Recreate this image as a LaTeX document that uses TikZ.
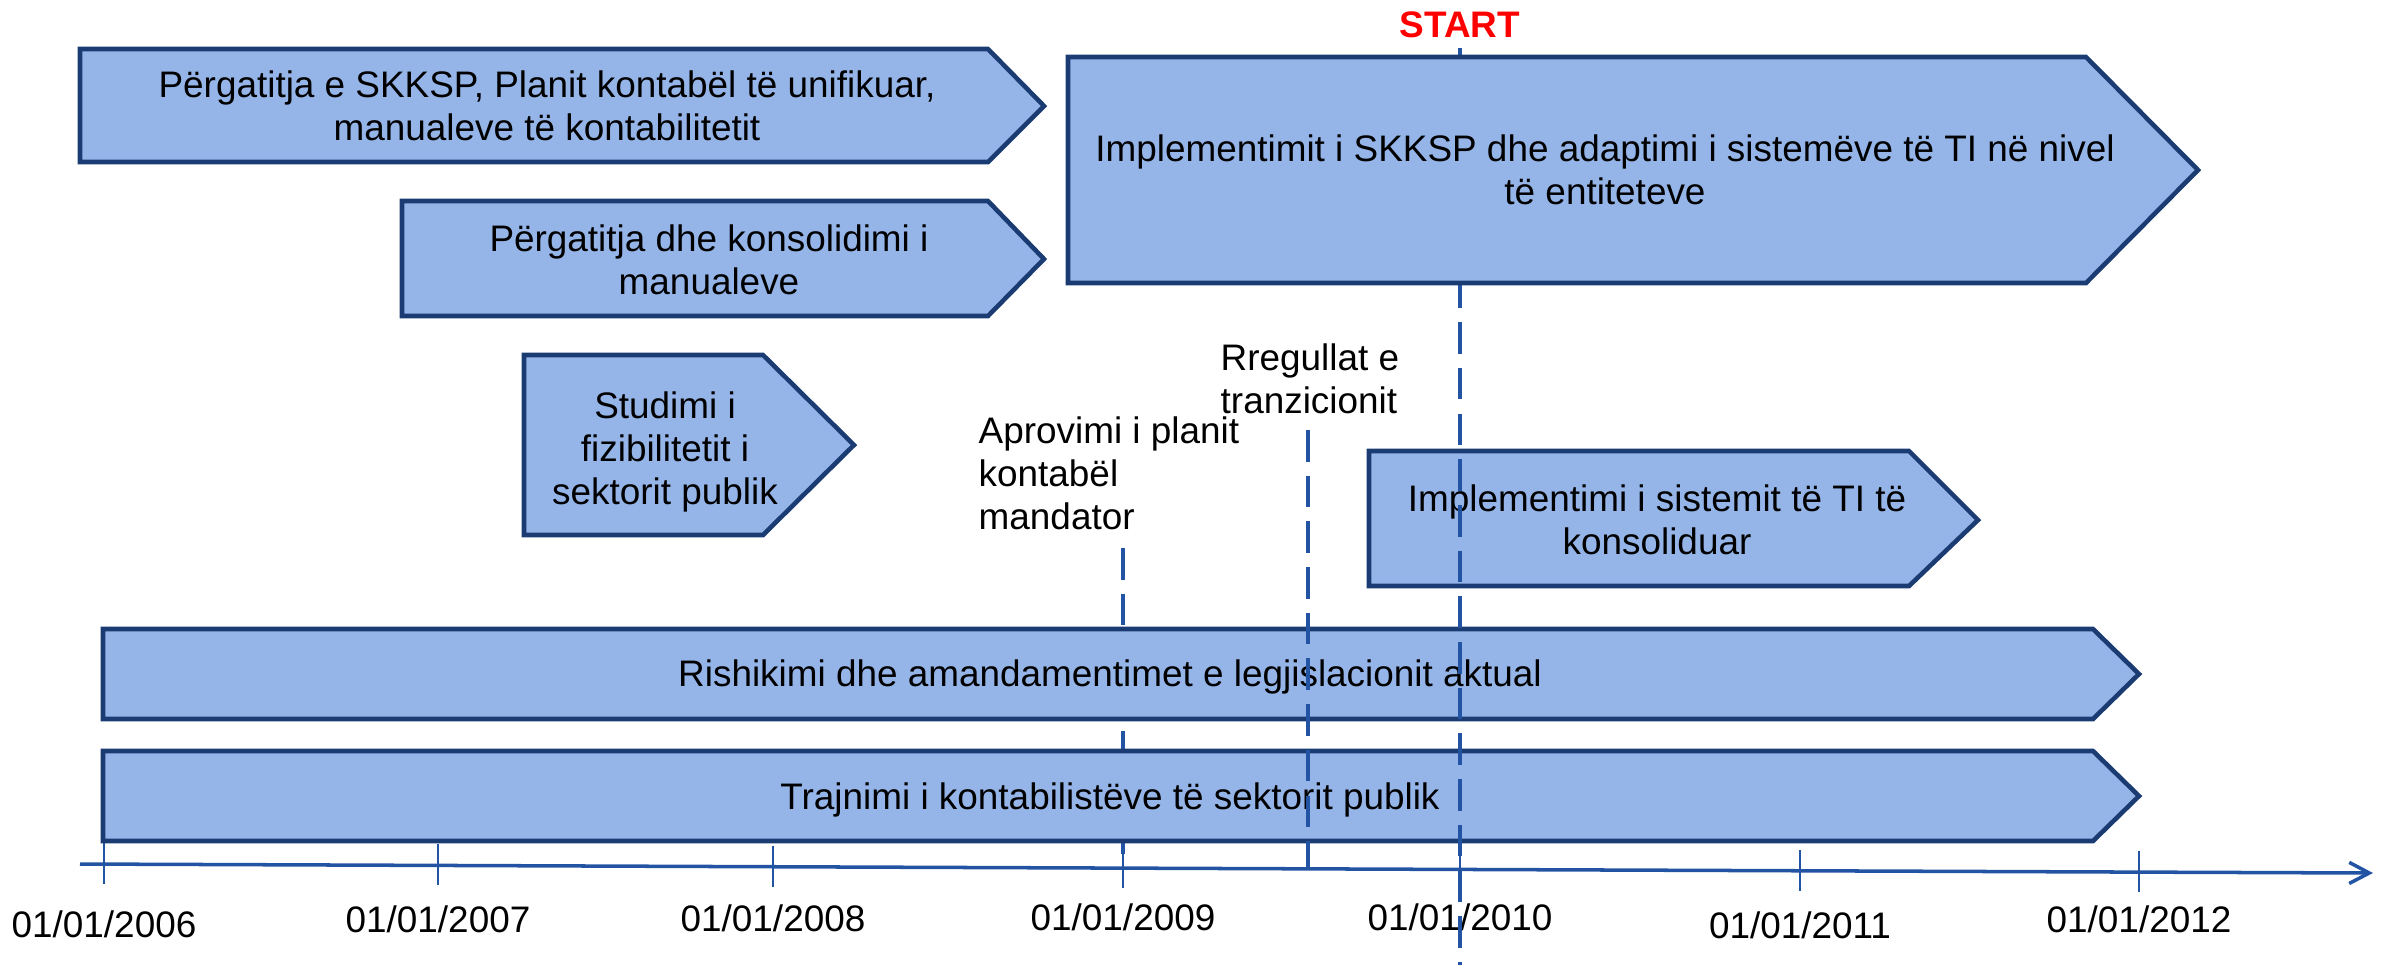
\documentclass[tikz,border=0pt]{standalone}
\usepackage{fontspec}
\setmainfont{Liberation Sans}
\usetikzlibrary{arrows.meta}

\definecolor{phasefill}{RGB}{149,181,233}
\definecolor{phaseline}{RGB}{26,60,114}
\definecolor{axisblue}{RGB}{35,84,163}

\begin{document}
\begin{tikzpicture}[x=0.1mm, y=-0.1mm, font=\fontsize{10.5}{12.2}\selectfont]
        \tikzset{phase/.style = {draw=phaseline, fill=phasefill, line width=1.3pt}}
        \tikzset{phasetext/.style = {align=center, inner sep=0pt}}
        \tikzset{note/.style = {align=left, anchor=north west, inner sep=0pt}}
        \tikzset{milestone/.style = {draw=axisblue, line width=0.9pt, dash pattern=on 9pt off 4pt}}
        \tikzset{axistick/.style = {draw=axisblue, line width=0.8pt}}
        \tikzset{datelbl/.style = {anchor=base, inner sep=0pt}}
        \useasboundingbox (0,0) rectangle (2382,965);

        % time axis
        \coordinate (ax0) at (80,864);
        \coordinate (ax1) at (2373,873);
        \foreach \x/\d/\b in {104/2006/937, 438/2007/932, 773/2008/931, 1123/2009/930,
                              1460/2010/930, 1800/2011/938, 2139/2012/932} {
          \pgfmathsetmacro{\ty}{864+(\x-80)/2293*9}
          \coordinate (t\d) at (\x,\ty);
          \draw[axistick] (\x,\ty-21) -- (\x,\ty+20);
          \node[datelbl] (d\d) at (\x,\b) {01/01/\d};
        }
        \draw[draw=axisblue, line width=1pt, -{Straight Barb[length=5.7pt, width=6pt]}] (ax0) -- (ax1);

        % milestone behind the bars
        \coordinate (aprtop) at (1123,548);
        \draw[milestone] (aprtop) -- (t2009);

        % lower bars
        \draw[phase] (103,629) -- (2093,629) -- (2139,674) -- (2093,719) -- (103,719) -- cycle;
        \node[phasetext] (rishikimi) at (1110,677) {Rishikimi dhe amandamentimet e legjislacionit aktual};
        \draw[phase] (103,751) -- (2093,751) -- (2139,796) -- (2093,841) -- (103,841) -- cycle;
        \node[phasetext] (trajnimi) at (1110,800) {Trajnimi i kontabilistëve të sektorit publik};
        \draw[phase] (1369,451) -- (1909,451) -- (1978,520) -- (1909,586) -- (1369,586) -- cycle;
        \node[phasetext] (sistemi) at (1657,520) {Implementimi i sistemit të TI të\\konsoliduar};

        % milestones over the bars
        \coordinate (starttop) at (1460,48);
        \coordinate (startbot) at (1460,965);
        \draw[milestone] (starttop) -- (startbot);
        \coordinate (rrtop) at (1308,430);
        \coordinate (rrbot) at (1308,868);
        \draw[milestone] (rrtop) -- (rrbot);

        % upper bars
        \draw[phase] (1068,57) -- (2086,57) -- (2198,170) -- (2086,283) -- (1068,283) -- cycle;
        \node[phasetext] (implementimi) at (1605,170) {Implementimit i SKKSP dhe adaptimi i sistemëve të TI në nivel\\të entiteteve};
        \draw[phase] (80,49) -- (988,49) -- (1044,106) -- (988,162) -- (80,162) -- cycle;
        \node[phasetext] (pergatitja) at (547,106) {Përgatitja e SKKSP, Planit kontabël të unifikuar,\\manualeve të kontabilitetit};
        \draw[phase] (402,201) -- (988,201) -- (1044,259) -- (988,316) -- (402,316) -- cycle;
        \node[phasetext] (konsolidimi) at (709,260) {Përgatitja dhe konsolidimi i\\manualeve};
        \draw[phase] (524,355) -- (763,355) -- (854,445) -- (763,535) -- (524,535) -- cycle;
        \node[phasetext] (studimi) at (665,452) {Studimi i\\fizibilitetit i\\sektorit publik};

        % labels
        \node[inner sep=0pt, text=red, font=\fontsize{10.5}{12.2}\selectfont\bfseries] (start) at (1460,25) {START};
        \node[note] (rregullat) at (1220,343) {Rregullat e\\tranzicionit};
        \node[note] (aprovimi) at (978,416) {Aprovimi i planit\\kontabël\\mandator};
      \end{tikzpicture}
\end{document}
